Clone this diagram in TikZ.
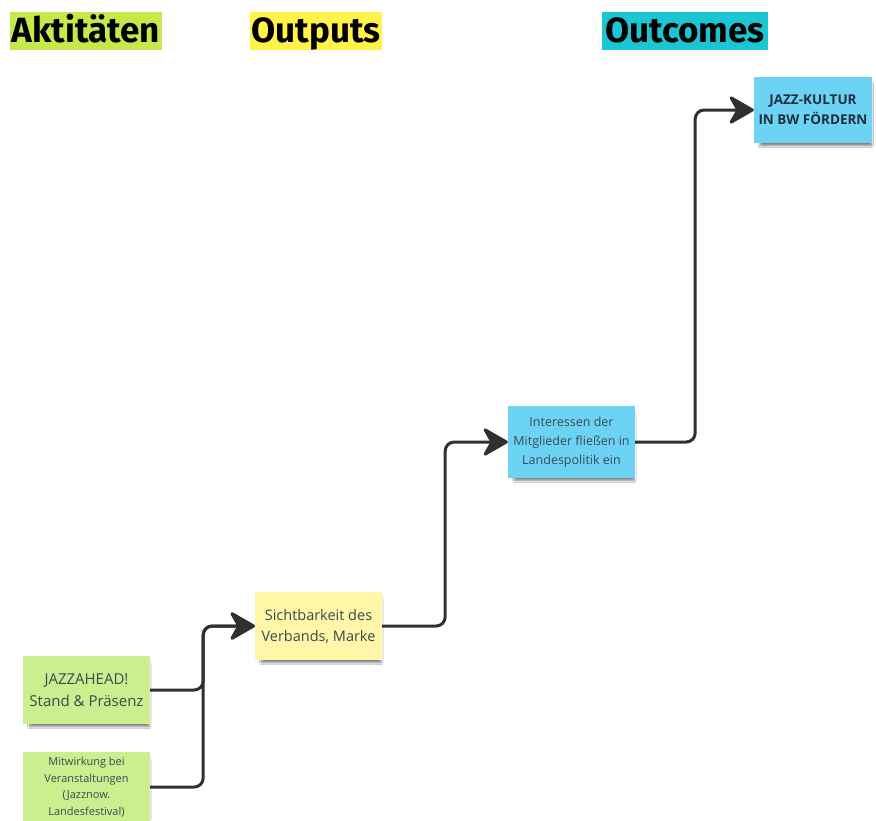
\documentclass[tikz,border=0pt]{standalone}
\usepackage{fontspec}
\setmainfont{Open Sans}
\newfontfamily\headfont{Fira Sans}
\usetikzlibrary{arrows.meta,shadows.blur}

\definecolor{limehead}{HTML}{C5E84A}
\definecolor{yellowhead}{HTML}{FFF24A}
\definecolor{tealhead}{HTML}{1BC6D2}
\definecolor{stickyblue}{HTML}{6DD3F5}
\definecolor{stickyyellow}{HTML}{FFF6A8}
\definecolor{stickygreen}{HTML}{CBEE8F}
\definecolor{stickytext}{HTML}{3A4A52}
\definecolor{titletext}{HTML}{1F2F3A}
\definecolor{linegray}{HTML}{303030}

\tikzset{
  head/.style={inner sep=0pt, minimum height=38pt, text height=26pt, text depth=4pt,
    text=black, font=\headfont\bfseries\fontsize{35}{35}\selectfont},
  sticky/.style={rectangle, inner sep=2pt, minimum width=127pt, minimum height=68pt,
    align=center, text=stickytext,
    blur shadow={shadow xshift=3pt, shadow yshift=-5pt, shadow scale=0.94,
      shadow opacity=50, shadow blur steps=8}},
  conn/.style={draw=linegray, line width=3pt, rounded corners=9pt, line join=round,
    -{Stealth[length=28pt, width=32pt, inset=9pt, round]}},
}

\begin{document}
\begin{tikzpicture}[x=1pt, y=-1pt]
\useasboundingbox[fill=white] (0,0) rectangle (876,820);

% column headings
\node[head, fill=limehead, minimum width=152pt] (hakt) at (86,31) {Aktitäten};
\node[head, fill=yellowhead, minimum width=132pt] (hout) at (316,31) {Outputs};
\node[head, fill=tealhead, minimum width=166pt] (hoc) at (685,31) {Outcomes};

% sticky notes
\node[sticky, fill=stickyblue, minimum width=118pt, minimum height=66pt,
      text=titletext, font=\bfseries\fontsize{13.5}{20}\selectfont]
      (jk) at (813,110) {JAZZ-KULTUR\\IN BW FÖRDERN};
\node[sticky, fill=stickyblue, minimum height=72pt, font=\fontsize{12.5}{19}\selectfont]
      (in) at (571.5,442) {Interessen der\\Mitglieder fließen in\\Landespolitik ein};
\node[sticky, fill=stickyyellow, font=\fontsize{14.5}{21}\selectfont]
      (sb) at (318.5,626) {Sichtbarkeit des\\Verbands, Marke};
\node[sticky, fill=stickygreen, font=\fontsize{15}{22}\selectfont]
      (ja) at (86.5,690) {JAZZAHEAD!\\Stand \& Präsenz};
\node[sticky, fill=stickygreen, minimum height=70pt, font=\fontsize{11}{16.5}\selectfont]
      (mw) at (86.5,787) {Mitwirkung bei\\Veranstaltungen\\(Jazznow.\\Landesfestival)};

% connectors
\draw[conn] (ja.east) -- ++(53,0) |- (sb.west);
\draw[conn] (mw.east) -- ++(53,0) |- (sb.west);
\draw[conn] (sb.east) -- ++(63,0) |- (in.west);
\draw[conn] (in.east) -- ++(60,0) |- (jk.west);
\end{tikzpicture}
\end{document}
